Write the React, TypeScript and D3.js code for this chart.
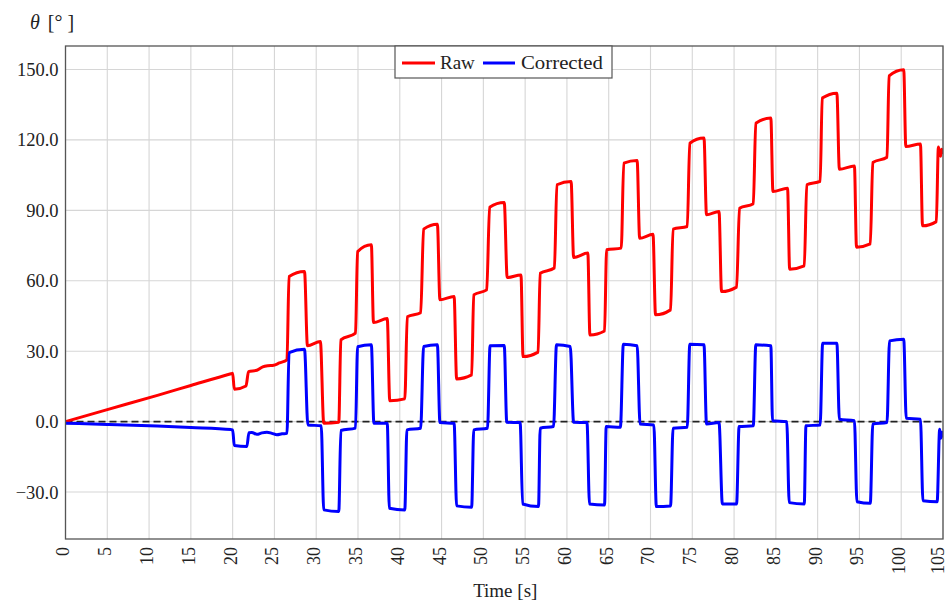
import React from "react";
import * as d3 from "d3";

const rawT = [0, 5, 11, 15, 19.8, 20.0, 20.2, 21.6, 21.9, 22.9, 23.6, 24.2, 24.9, 25.6, 26.5, 26.75, 28.6, 28.95, 30.5, 30.9, 32.7, 32.95, 34.7, 34.95, 36.6, 36.85, 38.5, 38.8, 40.6, 40.9, 42.5, 42.85, 44.5, 44.8, 46.5, 46.8, 48.6, 48.85, 50.4, 50.75, 52.5, 52.85, 54.5, 54.75, 56.55, 56.8, 58.5, 58.8, 60.5, 60.8, 62.5, 62.75, 64.5, 64.75, 66.5, 66.8, 68.4, 68.7, 70.3, 70.6, 72.4, 72.7, 74.4, 74.7, 76.4, 76.7, 78.2, 78.5, 80.3, 80.65, 82.3, 82.6, 84.4, 84.65, 86.4, 86.65, 88.4, 88.7, 90.3, 90.55, 92.3, 92.6, 94.4, 94.65, 96.3, 96.6, 98.3, 98.55, 100.3, 100.55, 102.3, 102.55, 104.2, 104.45, 104.7, 104.85, 105];
const rawV = [0, 5.1, 11.2, 15.4, 20.4, 20.6, 13.8, 15.2, 21.3, 21.9, 23.3, 23.8, 24.0, 25.0, 26.3, 61.8, 63.9, 32.3, 34.1, -0.7, -0.3, 34.8, 37.7, 72.4, 75.3, 42.2, 43.9, 8.9, 9.7, 44.7, 46.4, 82.0, 84.1, 51.9, 53.3, 18.2, 19.9, 54.0, 56.1, 91.3, 93.3, 61.4, 62.5, 27.7, 29.6, 63.2, 65.4, 100.9, 102.3, 69.9, 71.8, 36.9, 38.6, 73.2, 73.9, 110.1, 111.2, 78.1, 79.8, 45.5, 47.6, 82.0, 83.1, 118.6, 120.8, 88.1, 89.5, 55.4, 57.3, 90.9, 92.8, 127.1, 129.3, 98.0, 99.4, 64.9, 66.3, 100.9, 102.3, 137.8, 139.9, 107.5, 108.9, 74.3, 75.7, 110.4, 112.6, 147.3, 149.9, 117.2, 118.3, 83.4, 85.2, 117.0, 113.0, 116.0, 114.0];

const corrT = [0, 5, 11, 15, 19.8, 20.0, 20.2, 21.7, 21.95, 22.3, 22.9, 23.5, 24.1, 24.7, 25.3, 25.9, 26.5, 26.75, 28.6, 29.0, 30.6, 30.9, 32.7, 32.95, 34.7, 34.95, 36.6, 36.9, 38.5, 38.75, 40.6, 40.85, 42.5, 42.85, 44.5, 44.8, 46.5, 46.8, 48.6, 48.85, 50.5, 50.8, 52.5, 52.8, 54.4, 54.7, 56.6, 56.8, 58.4, 58.75, 60.4, 60.8, 62.4, 62.7, 64.5, 64.7, 66.4, 66.75, 68.4, 68.75, 70.4, 70.7, 72.4, 72.7, 74.4, 74.7, 76.4, 76.7, 78.2, 78.6, 80.3, 80.6, 82.3, 82.6, 84.4, 84.6, 86.3, 86.6, 88.4, 88.6, 90.3, 90.6, 92.3, 92.6, 94.4, 94.7, 96.3, 96.6, 98.3, 98.6, 100.3, 100.6, 102.3, 102.6, 104.3, 104.6, 104.75, 105];
const corrV = [-0.7, -1.2, -1.9, -2.5, -3.4, -3.5, -10.2, -10.6, -4.7, -4.6, -5.4, -4.8, -4.5, -5.0, -5.6, -5.2, -5.0, 29.4, 30.8, -1.4, -1.8, -37.6, -38.3, -3.8, -2.8, 31.9, 32.7, -0.7, -0.7, -36.9, -37.6, -3.5, -2.8, 32.0, 32.7, -0.4, -0.7, -35.9, -36.5, -3.5, -2.8, 32.3, 32.4, -0.3, -0.4, -35.1, -36.2, -2.8, -2.1, 32.7, 32.0, -0.3, -0.4, -35.1, -35.5, -2.1, -2.4, 33.0, 32.3, -1.0, -1.4, -36.2, -35.9, -2.8, -2.4, 33.0, 32.7, -1.0, -0.4, -35.1, -35.1, -2.1, -1.8, 32.7, 32.3, 0.4, 0.0, -34.5, -35.1, -1.8, -1.4, 33.4, 33.4, 1.0, 0.4, -34.1, -34.8, -1.0, -0.4, 34.4, 35.1, 1.4, 1.0, -33.7, -34.1, -3.2, -7.1, -4.0];

const xTicks = [0, 5, 10, 15, 20, 25, 30, 35, 40, 45, 50, 55, 60, 65, 70, 75, 80, 85, 90, 95, 100, 105];
const yTicks = [-30, 0, 30, 60, 90, 120, 150];

const seriesNames = ["Raw", "Corrected"];
const seriesColors = ["#ff0000", "#0000ff"];

const W = 946;
const H = 601;
const L = 65.5, R = 943, T = 46, B = 539;
const FONT = "'Liberation Serif', 'Times New Roman', serif";

export default function App() {
  const x = d3.scaleLinear().domain([0, 105]).range([L, R]);
  const y = d3.scaleLinear().domain([-50, 160]).range([B, T]);
  const line = d3
    .line<[number, number]>()
    .x((d) => x(d[0]))
    .y((d) => y(d[1]))
    .curve(d3.curveMonotoneX);
  const rawPts: [number, number][] = rawT.map((t, i) => [t, rawV[i]]);
  const corrPts: [number, number][] = corrT.map((t, i) => [t, corrV[i]]);

  const legX = 395, legY = 46, legW = 217, legH = 32;

  return (
    <svg
      width={W}
      height={H}
      style={{ position: "absolute", left: 0, top: 0, display: "block", background: "#fff" }}
      fontFamily={FONT}
    >
      <defs>
        <clipPath id="plotclip">
          <rect x={L} y={T} width={R - L} height={B - T} />
        </clipPath>
      </defs>
      {/* grid */}
      {xTicks.map((t) => (
        <line key={"gx" + t} x1={x(t)} x2={x(t)} y1={T} y2={B} stroke="#d6d6d6" strokeWidth={1.1} />
      ))}
      {yTicks.map((t) => (
        <line key={"gy" + t} x1={L} x2={R} y1={y(t)} y2={y(t)} stroke="#d6d6d6" strokeWidth={1.1} />
      ))}
      {/* zero dashed line */}
      <line x1={L} x2={R} y1={y(0)} y2={y(0)} stroke="#222" strokeWidth={1.8} strokeDasharray="7 4" />
      {/* series */}
      <g clipPath="url(#plotclip)">
        <path d={line(rawPts) || ""} fill="none" stroke={seriesColors[0]} strokeWidth={3} strokeLinejoin="round" />
        <path d={line(corrPts) || ""} fill="none" stroke={seriesColors[1]} strokeWidth={3} strokeLinejoin="round" />
      </g>
      {/* frame */}
      <rect x={L} y={T} width={R - L} height={B - T} fill="none" stroke="#555" strokeWidth={1.3} />
      {/* y tick labels */}
      {yTicks.map((t) => (
        <text key={"yl" + t} x={L - 7} y={y(t)} dy="0.35em" textAnchor="end" fontSize={18.5} fill="#222">
          {t < 0 ? "\u2212" + Math.abs(t).toFixed(1) : t.toFixed(1)}
        </text>
      ))}
      {/* x tick labels */}
      {xTicks.map((t) => (
        <text
          key={"xl" + t}
          transform={`translate(${Math.min(x(t), W - 6)},${B + 8}) rotate(-90)`}
          textAnchor="end"
          dy="0.22em"
          fontSize={18}
          fill="#222"
        >
          {t}
        </text>
      ))}
      {/* axis labels */}
      <text x={30} y={29} fontSize={20} fill="#222">
        <tspan fontStyle="italic">θ</tspan>
        <tspan dx={8}>[° ]</tspan>
      </text>
      <text x={(L + R) / 2 + 1} y={597} textAnchor="middle" fontSize={19} fill="#222">
        Time [s]
      </text>
      {/* legend */}
      <rect x={legX} y={legY} width={legW} height={legH} fill="#fff" stroke="#555" strokeWidth={1.2} />
      <line x1={402} x2={435} y1={legY + 17} y2={legY + 17} stroke={seriesColors[0]} strokeWidth={3} />
      <text x={440} y={legY + 22.5} fontSize={19} fill="#222">{seriesNames[0]}</text>
      <line x1={483} x2={515} y1={legY + 17} y2={legY + 17} stroke={seriesColors[1]} strokeWidth={3} />
      <text x={521} y={legY + 22.5} fontSize={19} fill="#222" textLength={82} lengthAdjust="spacingAndGlyphs">{seriesNames[1]}</text>
    </svg>
  );
}
